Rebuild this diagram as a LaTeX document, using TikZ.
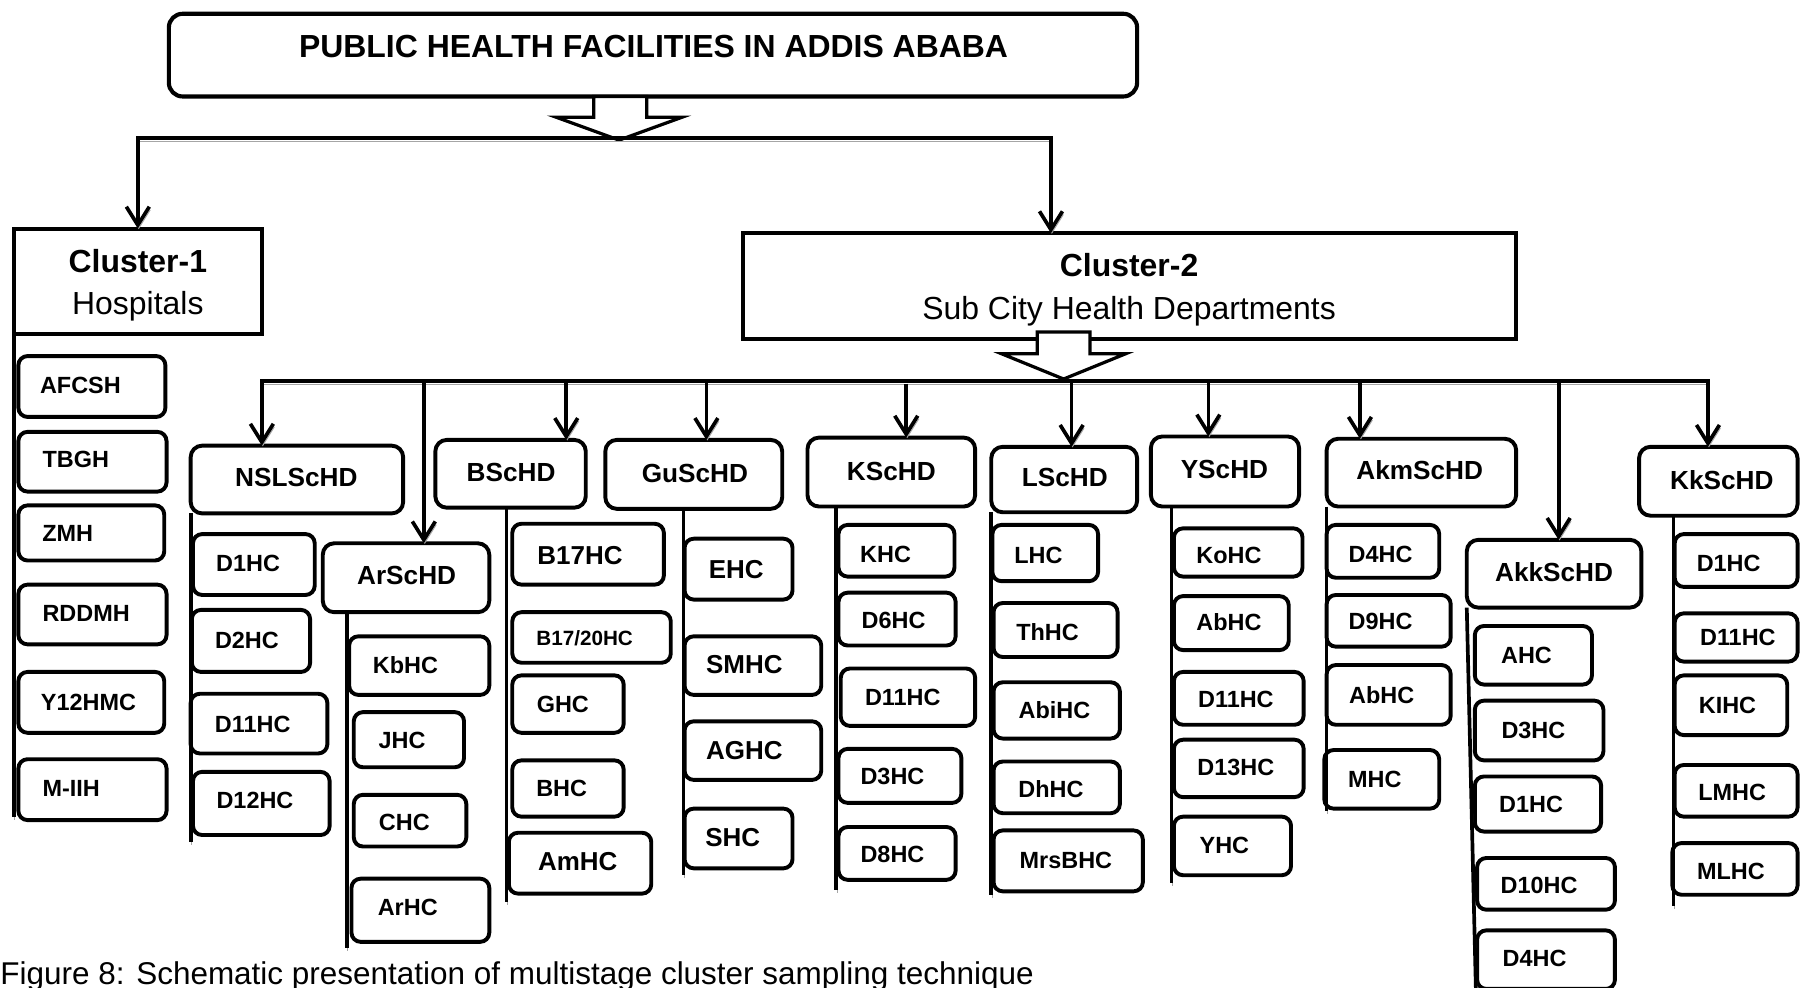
\documentclass[tikz,border=0pt]{standalone}
\usepackage{fontspec}
\setmainfont{Liberation Sans}
\usetikzlibrary{arrows.meta,fit}

% font sizes used by the labels
\newcommand\bigsize{\fontsize{11.3}{13}\selectfont}
\newcommand\smallsize{\fontsize{9}{11}\selectfont}

% a health-centre box: name, corners (x1,y1) (x2,y2), label centre, label
\newcommand\leaf[8]{%
  \node[hcbox, fit={(#2,#3) (#4,#5)}] (#1) {};
  \node[hclabel] (#1-l) at (#6,#7) {#8};}
% a sub-city box: same arguments
\newcommand\branch[8]{%
  \node[subbox, fit={(#2,#3) (#4,#5)}] (#1) {};
  \node[sublabel] (#1-l) at (#6,#7) {#8};}

\begin{document}
\begin{tikzpicture}[x=0.5pt,y=-0.5pt,
  boxline/.style={draw=black, line width=1.7pt, inner sep=0pt, outer sep=0pt},
  headbox/.style={boxline, rounded corners=6pt},
  clusterbox/.style={boxline},
  subbox/.style={boxline, rounded corners=5pt},
  hcbox/.style={boxline, rounded corners=4pt},
  blockarrow/.style={draw=black, line width=1.4pt, fill=white, line join=miter},
  wire/.style={draw=black, line width=1.6pt,
    preaction={draw=black!35, transform canvas={xshift=0.4pt,yshift=-1.4pt}}},
  downtip/.style={-{Straight Barb[length=8pt,width=10pt]}},
  twotips/.style={{Straight Barb[length=8pt,width=10pt]}-{Straight Barb[length=8pt,width=10pt]}},
  hclabel/.style={font=\fontsize{10.2}{12}\selectfont\bfseries, text height=7.3pt, text depth=0pt, inner sep=0pt},
  sublabel/.style={font=\fontsize{11.4}{13}\selectfont\bfseries, text height=8.2pt, text depth=0pt, inner sep=0pt},
  cluslabel/.style={font=\fontsize{13.9}{16}\selectfont, text height=10pt, text depth=0pt, inner sep=0pt},
  titlelabel/.style={font=\fontsize{13.9}{16}\selectfont\bfseries, text height=10pt, text depth=0pt, inner sep=0pt},
  caption/.style={font=\fontsize{13.7}{16}\selectfont, inner sep=0pt}]

\useasboundingbox (0,0) rectangle (1568,860);

% ---------- top level ----------
\node[headbox, line width=1.8pt, fit={(147,12) (990,84)}] (top) {};
\node[titlelabel] (top-l) at (569,40) {PUBLIC HEALTH FACILITIES IN ADDIS ABABA};

\node[clusterbox, fit={(12,199) (228,291)}] (c1) {};
\node[cluslabel, font=\fontsize{13.9}{16}\selectfont\bfseries] (c1-a) at (120,227) {Cluster-1};
\node[cluslabel] (c1-b) at (120,264) {Hospitals};

\node[clusterbox, fit={(647,203) (1320,295)}] (c2) {};
\node[cluslabel, font=\fontsize{13.9}{16}\selectfont\bfseries] (c2-a) at (983,231) {Cluster-2};
\node[cluslabel] (c2-b) at (983,268) {Sub City Health Departments};

% ---------- sub-city health departments ----------
\branch{nsl}{166}{388}{351}{447}{258}{415}{NSLScHD}
\branch{ar}{281}{473}{426}{533}{354}{501}{ArScHD}
\branch{bs}{379}{383}{510}{442}{445}{411}{BScHD}
\branch{gu}{527}{383}{681}{443}{605}{412}{GuScHD}
\branch{ks}{703}{381}{849}{441}{776}{410}{KScHD}
\branch{ls}{863}{389}{990}{446}{927}{415}{LScHD}
\branch{ys}{1002}{380}{1131}{441}{1066}{408}{YScHD}
\branch{akm}{1155}{382}{1320}{441}{1236}{409}{AkmScHD}
\branch{akk}{1277}{470}{1429}{529}{1353}{498}{AkkScHD}
\branch{kk}{1427}{389}{1565}{449}{1499}{418}{KkScHD}

% ---------- hospitals ----------
\leaf{afcsh}{16}{310}{144}{363}{70}{335}{AFCSH}
\leaf{tbgh}{16}{376}{145}{428}{66}{400}{TBGH}
\leaf{zmh}{16}{440}{143}{488}{59}{464}{ZMH}
\leaf{rddmh}{16}{509}{145}{561}{75}{534}{RDDMH}
\leaf{yhmc}{16}{585}{143}{638}{77}{611}{Y12HMC}
\leaf{miih}{16}{661}{145}{714}{62}{686}{M-IIH}

% ---------- health centres ----------
\leaf{nA}{168}{465}{274}{518}{216}{490}{D1HC}
\leaf{nB}{167}{531}{270}{585}{215}{557}{D2HC}
\leaf{nC}{166}{604}{285}{656}{220}{630}{D11HC}
\leaf{nD}{168}{672}{287}{727}{222}{697}{D12HC}

\leaf{aA}{304}{554}{426}{605}{353}{579}{KbHC}
\leaf{aB}{308}{620}{404}{668}{350}{644}{JHC}
\leaf{aC}{308}{692}{406}{737}{352}{716}{CHC}
\leaf{aD}{306}{765}{426}{820}{355}{790}{ArHC}

\leaf{bA}{446}{456}{578}{509}{505}{484}{\bigsize B17HC}
\leaf{bB}{446}{533}{584}{577}{509}{555}{\smallsize B17/20HC}
\leaf{bC}{446}{588}{543}{638}{490}{613}{GHC}
\leaf{bD}{446}{662}{543}{711}{489}{686}{BHC}
\leaf{bE}{443}{725}{567}{778}{503}{751}{\bigsize AmHC}

\leaf{gA}{596}{469}{690}{522}{641}{496}{\bigsize EHC}
\leaf{gB}{596}{554}{715}{605}{648}{579}{\bigsize SMHC}
\leaf{gC}{596}{628}{715}{679}{648}{654}{\bigsize AGHC}
\leaf{gD}{596}{704}{690}{756}{638}{730}{\bigsize SHC}

\leaf{kA}{730}{457}{831}{502}{771}{482}{KHC}
\leaf{kB}{730}{516}{832}{562}{778}{540}{D6HC}
\leaf{kC}{732}{582}{849}{632}{786}{607}{D11HC}
\leaf{kD}{730}{652}{837}{699}{777}{676}{D3HC}
\leaf{kE}{730}{720}{832}{766}{777}{744}{D8HC}

\leaf{lA}{864}{457}{956}{506}{904}{483}{LHC}
\leaf{lB}{865}{525}{973}{572}{912}{550}{ThHC}
\leaf{lC}{865}{594}{975}{643}{918}{618}{AbiHC}
\leaf{lD}{865}{663}{975}{708}{915}{687}{DhHC}
\leaf{lE}{865}{723}{995}{776}{928}{749}{MrsBHC}

\leaf{yA}{1022}{460}{1134}{502}{1070}{483}{KoHC}
\leaf{yB}{1022}{519}{1122}{566}{1070}{542}{AbHC}
\leaf{yC}{1022}{585}{1135}{631}{1076}{609}{D11HC}
\leaf{yD}{1022}{644}{1135}{694}{1076}{668}{D13HC}
\leaf{yE}{1022}{711}{1124}{762}{1066}{736}{YHC}

\leaf{mA}{1155}{457}{1253}{503}{1202}{482}{D4HC}
\leaf{mB}{1155}{518}{1263}{563}{1202}{541}{D9HC}
\leaf{mC}{1155}{579}{1263}{631}{1203}{605}{AbHC}
\leaf{mD}{1153}{653}{1253}{704}{1197}{678}{MHC}

\leaf{pA}{1284}{545}{1386}{596}{1329}{570}{AHC}
\leaf{pB}{1284}{610}{1396}{662}{1335}{636}{D3HC}
\leaf{pC}{1284}{676}{1394}{724}{1333}{700}{D1HC}
\leaf{pD}{1286}{747}{1406}{792}{1340}{771}{D10HC}
\leaf{pE}{1286}{810}{1406}{861}{1336}{834}{D4HC}

\leaf{qA}{1458}{465}{1565}{511}{1505}{490}{D1HC}
\leaf{qB}{1458}{534}{1565}{576}{1513}{555}{D11HC}
\leaf{qC}{1458}{588}{1556}{640}{1504}{614}{KIHC}
\leaf{qD}{1458}{666}{1565}{711}{1508}{690}{LMHC}
\leaf{qE}{1456}{734}{1565}{779}{1507}{758}{MLHC}

% ---------- hollow block arrows ----------
\draw[blockarrow] (517,84) -- (517,102) -- (484,102) -- (539,122) -- (594,102)
  -- (563,102) -- (563,84) -- cycle;
\draw[blockarrow] (903,289) -- (903,308) -- (872,308) -- (926,330) -- (980,308)
  -- (949,308) -- (949,289) -- cycle;

% ---------- connectors ----------
\coordinate (h1L) at (120,120);
\coordinate (h1R) at (915,120);
\draw[wire, twotips] (c1.north -| h1L) -- (h1L) -- (h1R) -- (c2.north -| h1R);

\coordinate (h2L) at (228,332);
\coordinate (h2R) at (1487,332);
\draw[wire, twotips] (nsl.north -| h2L) -- (h2L) -- (h2R) -- (kk.north -| h2R);

\coordinate (dar) at (369,330);
\coordinate (dbs) at (493,332);
\coordinate (dgu) at (615,332);
\coordinate (dks) at (789,334);
\coordinate (dls) at (933,332);
\coordinate (dys) at (1052,332);
\coordinate (dakm) at (1184,332);
\coordinate (dakk) at (1357,332);
\draw[wire, downtip] (dar) -- (ar.north -| dar);
\draw[wire, downtip] (dbs) -- (bs.north -| dbs);
\draw[wire, downtip] (dgu) -- (gu.north -| dgu);
\draw[wire, downtip] (dks) -- (ks.north -| dks);
\draw[wire, downtip] (dls) -- (ls.north -| dls);
\draw[wire, downtip] (dys) -- (ys.north -| dys);
\draw[wire, downtip] (dakm) -- (akm.north -| dakm);
\draw[wire, downtip] (dakk) -- (akk.north -| dakk);

% trunks that carry each list of facilities
\coordinate (c1end) at (12,711);
\coordinate (nslend) at (166,733);
\coordinate (arend) at (302,825);
\coordinate (bsend) at (441,785);
\coordinate (guend) at (595,762);
\coordinate (ksend) at (728,775);
\coordinate (lsend) at (863,779);
\coordinate (ysend) at (1020,769);
\coordinate (akmend) at (1155,706);
\coordinate (akkend) at (1285,864);
\coordinate (kkend) at (1457,789);
\draw[wire] (c1.south west) -- (c1end);
\draw[wire] (nsl.south west) -- (nslend);
\draw[wire] (ar.south -| arend) -- (arend);
\draw[wire] (bs.south -| bsend) -- (bsend);
\draw[wire] (gu.south -| guend) -- (guend);
\draw[wire] (ks.south -| ksend) -- (ksend);
\draw[wire] (ls.south west) -- (lsend);
\draw[wire] (ys.south -| ysend) -- (ysend);
\draw[wire] (akm.south west) -- (akmend);
\draw[wire] (akk.south west) -- (akkend);
\draw[wire] (kk.south -| kkend) -- (kkend);

% ---------- caption ----------
\node[caption, anchor=base west] (cap) at (0,857)
  {Figure 8: Schematic presentation of multistage cluster sampling technique};
\end{tikzpicture}
\end{document}
